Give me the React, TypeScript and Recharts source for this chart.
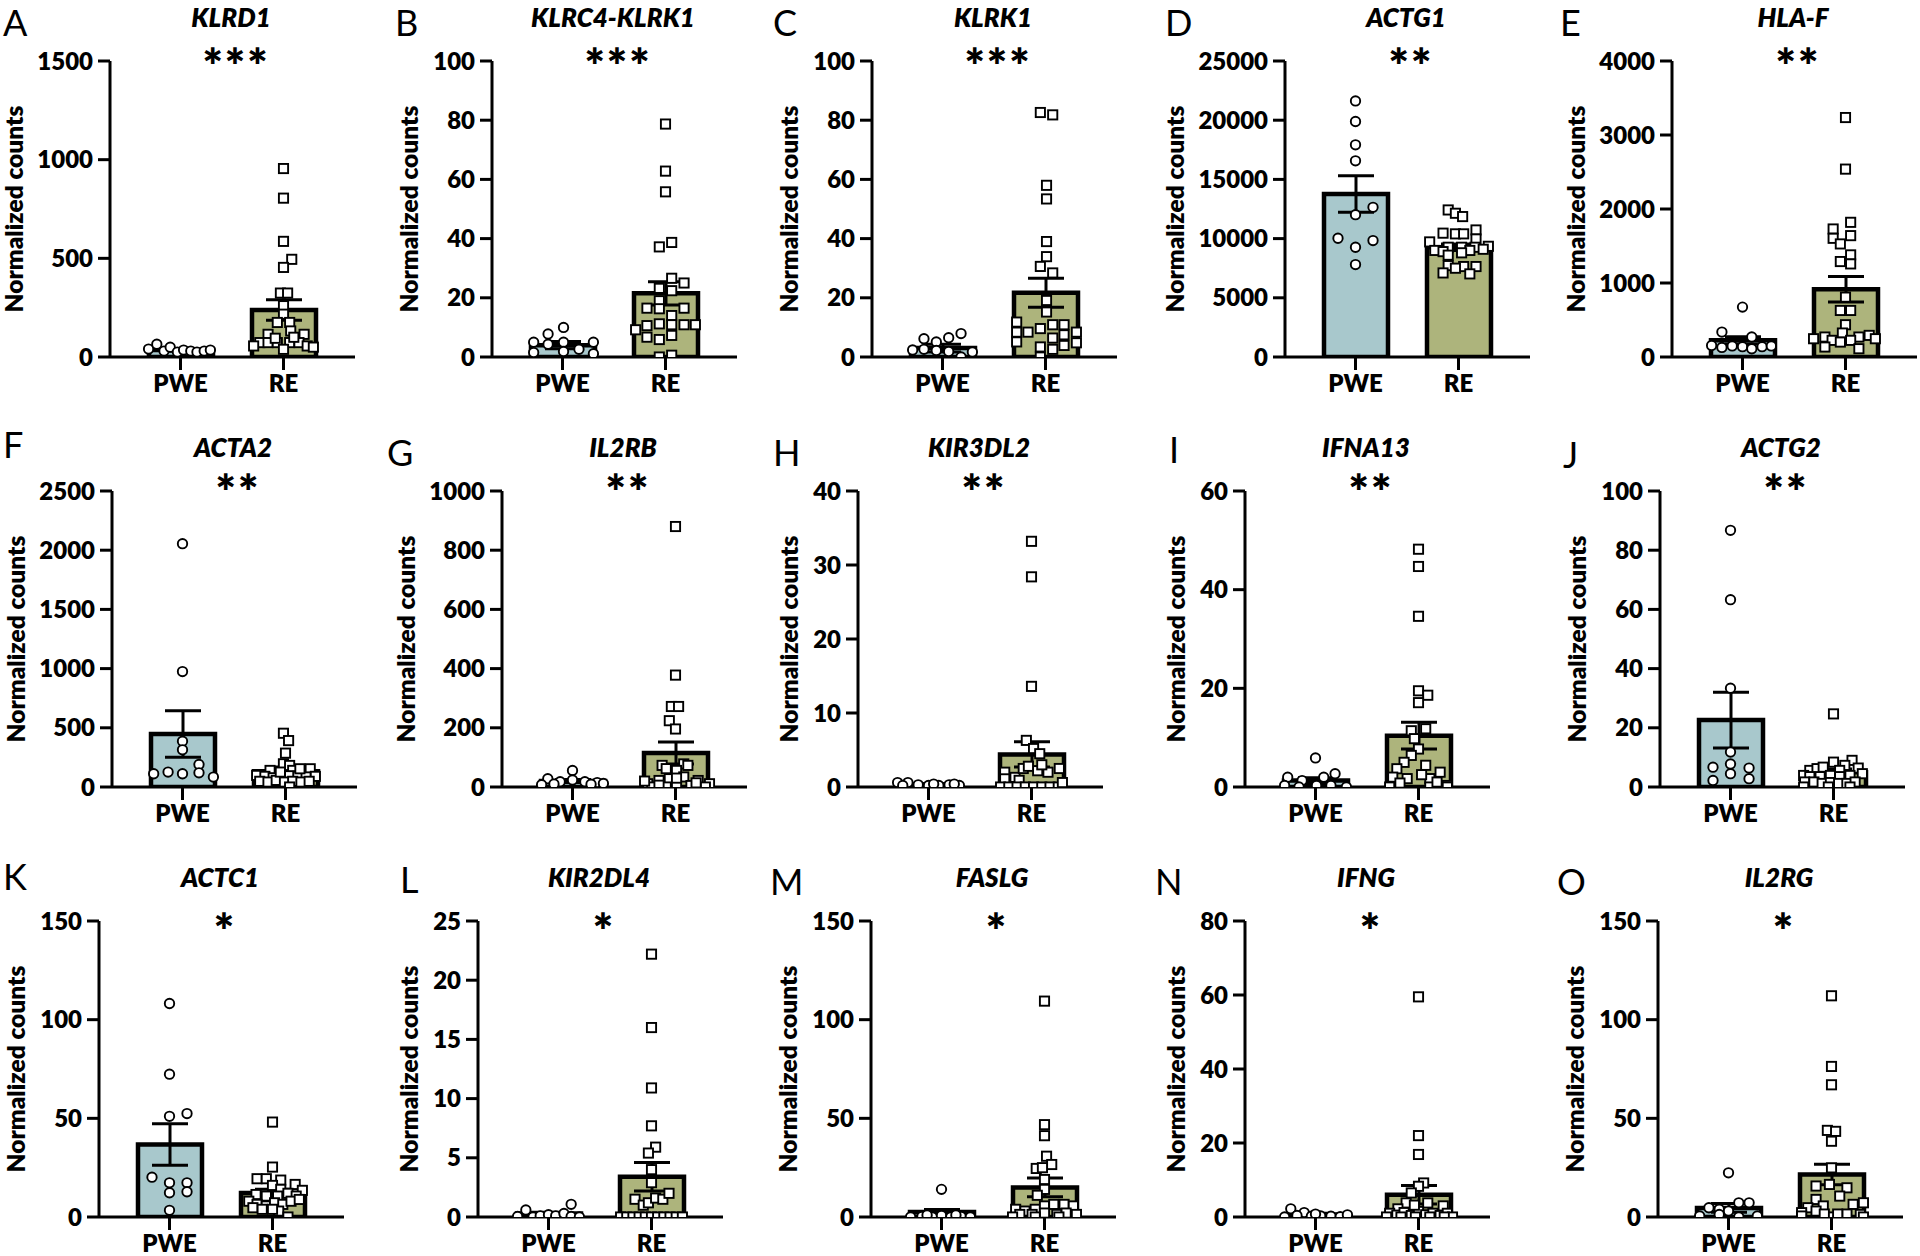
import { Bar, Cell, ComposedChart, ErrorBar, Scatter, XAxis, YAxis } from 'recharts';

const GROUPS = ['PWE', 'RE'];
const GENES = [
  'KLRD1', 'KLRC4-KLRK1', 'KLRK1', 'ACTG1', 'HLA-F',
  'ACTA2', 'IL2RB', 'KIR3DL2', 'IFNA13', 'ACTG2',
  'ACTC1', 'KIR2DL4', 'FASLG', 'IFNG', 'IL2RG',
];
const LETTERS = ['A', 'B', 'C', 'D', 'E', 'F', 'G', 'H', 'I', 'J', 'K', 'L', 'M', 'N', 'O'];
const STARS = ['***', '***', '***', '**', '**', '**', '**', '**', '**', '**', '*', '*', '*', '*', '*'];
const Y_TICKS = [
  [0, 500, 1000, 1500],
  [0, 20, 40, 60, 80, 100],
  [0, 20, 40, 60, 80, 100],
  [0, 5000, 10000, 15000, 20000, 25000],
  [0, 1000, 2000, 3000, 4000],
  [0, 500, 1000, 1500, 2000, 2500],
  [0, 200, 400, 600, 800, 1000],
  [0, 10, 20, 30, 40],
  [0, 20, 40, 60],
  [0, 20, 40, 60, 80, 100],
  [0, 50, 100, 150],
  [0, 5, 10, 15, 20, 25],
  [0, 50, 100, 150],
  [0, 20, 40, 60, 80],
  [0, 50, 100, 150],
];

// bar heights (mean) and error bars (SEM)
const MEAN_PWE = [35, 4, 3, 13760, 225, 448, 20, 0.35, 1.3, 22.6, 36.7, 0.3, 2.5, 0.7, 4.6];
const SEM_PWE = [5, 1.2, 1.3, 1540, 50, 196, 5, 0.08, 0.6, 9.4, 10.5, 0.1, 1.3, 0.3, 2.2];
const MEAN_RE = [238, 21.5, 21.7, 9270, 915, 133, 115, 4.4, 10.4, 5, 12.2, 3.4, 15, 6, 21.5];
const SEM_RE = [52, 3.9, 4.9, 280, 173, 35, 37, 1.7, 2.7, 1.1, 1.9, 1.2, 4.8, 2.5, 5.2];

// individual samples: [horizontal jitter in group widths, normalized count]
const KLRD1_PWE = [[-0.31, 40], [-0.23, 65], [-0.16, 30], [-0.1, 50], [-0.03, 25], [0.03, 35], [0.1, 30], [0.16, 25], [0.23, 30], [0.29, 35]];
const KLRD1_RE = [[0, 955], [0, 805], [0, 586], [0.08, 495], [0, 454], [-0.03, 324], [0.04, 324], [0, 260], [0, 217], [-0.06, 175], [0.06, 175], [0.07, 132], [-0.15, 115], [0.2, 115], [-0.23, 73], [-0.15, 73], [-0.06, 73], [0.06, 73], [0.15, 73], [-0.29, 56], [0.23, 56], [0.29, 50], [0, 39], [-0.08, 95], [0.1, 100]];
const KLRC4_PWE = [[0.01, 10], [-0.14, 7.8], [-0.28, 5], [-0.14, 4.3], [0.01, 5], [0.3, 5], [0.16, 2.6], [0.01, 1.9], [-0.28, 1.5], [0.3, 1.1]];
const KLRC4_RE = [[0, 78.7], [0, 62.8], [0, 55.8], [-0.06, 37.2], [0.06, 38.7], [0.06, 26.6], [0.18, 25], [-0.06, 23.2], [0.06, 22.4], [-0.06, 19], [-0.18, 16.5], [-0.06, 16.3], [0.18, 16.5], [0.06, 14], [-0.18, 10.6], [-0.06, 11.2], [0.06, 10.9], [0.18, 10.9], [-0.29, 9.2], [0.29, 10.9], [-0.18, 6.7], [-0.06, 5.9], [0.06, 7.3], [-0.06, 0], [0.06, 0.6]];
const KLRK1_PWE = [[-0.18, 6.2], [-0.06, 5.1], [0.06, 6.5], [0.18, 7.9], [-0.29, 2.4], [-0.18, 2.6], [-0.06, 2.2], [0.06, 1.9], [0.18, 0], [0.29, 1.7]];
const KLRK1_RE = [[-0.05, 82.6], [0.07, 81.8], [0.01, 58], [0.01, 53.4], [0.01, 39], [0.01, 33.9], [-0.05, 30.6], [0.07, 28.4], [0.01, 19.1], [0.01, 15.2], [-0.28, 11.8], [-0.28, 8.4], [-0.28, 5.1], [-0.17, 8.4], [-0.05, 9.6], [0.07, 10.9], [0.18, 10.9], [0.07, 6.4], [0.18, 7.5], [0.3, 8.4], [0.3, 4.8], [0.18, 3.9], [-0.05, 3.4], [0.07, 2.6], [-0.05, 0]];
const ACTG1_PWE = [[0, 21630], [0, 19890], [0, 17920], [0, 16570], [0.17, 12640], [0, 12020], [-0.17, 10030], [0.17, 9830], [0, 9270], [0, 7810]];
const ACTG1_RE = [[-0.1, 12420], [-0.03, 12140], [0.04, 11860], [-0.15, 10460], [-0.03, 10400], [0.05, 10400], [0.17, 10730], [-0.28, 9720], [0.17, 9970], [-0.23, 9000], [-0.1, 9270], [0.03, 9270], [0.16, 9270], [0.29, 9350], [-0.15, 8900], [0.11, 9000], [-0.1, 8600], [0.03, 8800], [-0.1, 7720], [0.05, 7640], [0.17, 7640], [-0.03, 7500], [-0.15, 7100], [0.11, 7020], [0.24, 9100]];
const HLAF_PWE = [[0, 674], [-0.2, 337], [0.09, 270], [-0.3, 157], [-0.2, 130], [-0.1, 150], [0, 140], [0.09, 110], [0.19, 140], [0.28, 150]];
const HLAF_RE = [[0, 3236], [0, 2539], [0.05, 1820], [-0.12, 1730], [-0.12, 1604], [0.05, 1640], [-0.05, 1528], [0.05, 1380], [-0.05, 1290], [0.05, 1258], [0, 809], [0.05, 629], [-0.05, 629], [0, 436], [-0.2, 270], [-0.03, 324], [0.13, 270], [0.23, 292], [-0.31, 247], [-0.13, 225], [-0.05, 202], [0.05, 225], [0.29, 247], [-0.2, 135], [0.13, 112]];
const ACTA2_PWE = [[0, 2055], [0, 975], [0, 387], [0, 314], [0.16, 191], [-0.28, 112], [-0.14, 126], [0, 112], [0.16, 120], [0.3, 84]];
const ACTA2_RE = [[-0.02, 454], [0.03, 392], [0, 286], [-0.02, 196], [0.04, 182], [0.24, 154], [-0.15, 140], [0.07, 140], [-0.28, 98], [-0.2, 90], [-0.12, 78], [-0.04, 90], [0.04, 95], [0.12, 90], [0.2, 85], [0.29, 90], [-0.25, 48], [-0.17, 42], [-0.09, 56], [-0.01, 42], [0.07, 48], [0.15, 42], [0.23, 48], [0.04, 0], [-0.05, 126], [0.14, 154]];
const IL2RB_PWE = [[0, 56], [-0.24, 28], [-0.12, 18], [0, 24], [0.12, 18], [0.24, 15], [-0.3, 8], [-0.18, 10], [0.18, 9], [0.3, 12]];
const IL2RB_RE = [[0, 880], [0, 378], [-0.04, 272], [0.03, 272], [-0.06, 224], [0, 196], [-0.13, 73], [0.08, 78], [-0.09, 62], [0.01, 56], [0.12, 73], [-0.27, 11], [-0.16, 22], [-0.06, 28], [0.08, 34], [0.22, 22], [0.33, 11], [-0.23, 0], [-0.09, 0], [0.01, 5], [0.15, 5], [0.29, 0], [-0.3, 20], [-0.16, 6], [0.01, 30], [0.2, 14]];
const KIR3DL2_PWE = [[-0.3, 0.6], [-0.2, 0.6], [-0.1, 0.3], [0, 0.2], [0.1, 0.2], [0.2, 0.3], [0.3, 0.2], [-0.25, 0.2], [0.05, 0.4], [0.25, 0.4]];
const KIR3DL2_RE = [[0, 33.2], [0, 28.4], [0, 13.6], [-0.05, 6.3], [0.02, 5.2], [-0.26, 2], [-0.16, 1.3], [-0.08, 2.5], [0.06, 2.2], [0.16, 2], [0.27, 2.5], [-0.26, 1.1], [-0.12, 0.9], [0.1, 3], [-0.3, 0], [-0.22, 0], [-0.14, 0], [-0.06, 0], [0.02, 0], [0.1, 0], [0.18, 0], [0.26, 0], [0.3, 0.6], [-0.03, 2.8], [0.08, 4.5]];
const IFNA13_PWE = [[0, 5.9], [-0.27, 2], [0.19, 2.7], [0.08, 2], [-0.13, 1.3], [-0.3, 0.3], [-0.16, 0], [0.01, 0.3], [0.15, 0.3], [0.3, 0]];
const IFNA13_RE = [[0, 48.2], [0, 44.7], [0, 34.6], [0, 19.5], [0.09, 18.6], [0, 17.1], [-0.07, 11.4], [0.07, 11.8], [-0.04, 9.8], [0, 7.7], [-0.07, 6.4], [-0.14, 5], [0.07, 4.4], [-0.21, 3.7], [0.21, 3], [-0.25, 2], [-0.11, 1.7], [0.11, 1.7], [0.28, 0.3], [-0.28, 0], [0.11, 0], [0.28, 0], [-0.18, 0.8], [0.18, 1], [0.03, 2.5]];
const ACTG2_PWE = [[0, 86.7], [0, 63.3], [0, 33.4], [0, 11.8], [-0.17, 6.7], [0, 7.8], [0.18, 6.4], [0, 4.5], [-0.17, 2.2], [0.18, 2.8]];
const ACTG2_RE = [[0, 24.7], [0, 8.4], [0.18, 9], [0.11, 7.3], [0.24, 6.4], [-0.23, 5.6], [-0.16, 6.2], [-0.1, 6.7], [0.06, 5.6], [-0.29, 3.9], [-0.23, 3.5], [-0.13, 3.5], [-0.03, 3.9], [0.06, 3.5], [0.16, 3.9], [0.28, 4.5], [-0.28, 1.7], [-0.19, 1.7], [-0.11, 1.2], [-0.03, 1.5], [0.05, 1.2], [0.13, 1.2], [0.21, 1.7], [-0.29, 0], [-0.05, 0], [0.16, 0]];
const ACTC1_PWE = [[0, 108.2], [0, 72.4], [0, 51], [0.17, 52.4], [-0.17, 20.2], [0, 17.3], [0.17, 17.3], [0, 12.3], [0.17, 12.8], [0, 3.4]];
const ACTC1_RE = [[0, 48.1], [0, 25.3], [-0.15, 19.4], [-0.06, 19.4], [0.08, 18.7], [0.22, 16.5], [0, 16], [0.08, 14], [0.29, 13.5], [-0.16, 11.4], [-0.06, 10.6], [0.05, 10.6], [0.15, 12], [0.23, 10.6], [-0.23, 8], [-0.15, 6.4], [-0.06, 5.6], [0.02, 7.2], [0.1, 6.4], [0.18, 8], [0.26, 8.9], [-0.19, 4.7], [-0.1, 3.9], [0.06, 3], [0.15, 0], [0, 3.9]];
const KIR2DL4_PWE = [[0.22, 1.07], [-0.22, 0.6], [-0.3, 0.05], [-0.15, 0], [-0.08, 0.1], [0, 0.2], [0.07, 0.1], [0.15, 0.3], [0.22, 0.05], [0.3, 0]];
const KIR2DL4_RE = [[0, 22.2], [0, 16], [0, 10.9], [0, 7.7], [0.04, 5.9], [-0.03, 5.4], [0, 4], [0, 2.9], [-0.16, 1.5], [-0.08, 1], [-0.03, 1.2], [0.04, 1.6], [0.11, 1.5], [0.17, 2], [-0.3, 0], [-0.24, 0], [-0.18, 0], [-0.12, 0], [-0.06, 0], [0, 0], [0.06, 0], [0.12, 0], [0.18, 0], [0.24, 0], [0.3, 0]];
const FASLG_PWE = [[0, 14], [-0.3, 0], [-0.19, 0.3], [-0.09, 0], [0, 0.8], [0.09, 0], [0.19, 0.3], [0.28, 0], [-0.14, 1], [0.14, 1]];
const FASLG_RE = [[0, 109.4], [0, 46.8], [0, 41.2], [0.02, 30.8], [0.07, 26.6], [-0.08, 24.6], [-0.02, 25], [0, 19], [0, 14], [-0.07, 11], [-0.28, 3.9], [-0.19, 3], [-0.09, 3.9], [0, 5.6], [0.09, 6.4], [0.19, 6.4], [0.28, 5.6], [-0.24, 1.3], [-0.12, 1.3], [0, 2], [0.12, 1.3], [0.21, 2], [0.31, 1.3], [-0.31, 0], [-0.09, 0], [0.14, 0]];
const IFNG_PWE = [[-0.24, 2.2], [-0.11, 1.2], [-0.3, 0], [-0.18, 0.4], [-0.04, 0.2], [0.05, 0.3], [0.15, 0.2], [0.24, 0.1], [0.31, 0.6], [0, 0.8]];
const IFNG_RE = [[0, 59.5], [0, 22], [0, 16.9], [0.05, 9.2], [0, 8.3], [-0.07, 6.5], [-0.12, 3.8], [0.09, 3.8], [0.24, 3], [-0.2, 2.2], [-0.28, 1], [-0.21, 0.5], [-0.14, 1.2], [-0.07, 0.4], [0, 1.5], [0.07, 0.6], [0.14, 1], [0.21, 0.4], [0.28, 1], [0.33, 0], [-0.31, 0], [-0.17, 0], [-0.03, 0], [0.11, 0], [0.25, 0], [-0.04, 3.2]];
const IL2RG_PWE = [[0, 22.4], [0.2, 7.2], [0.1, 7.2], [-0.19, 4.7], [-0.09, 3.9], [0, 3], [0.1, 0], [-0.28, 0.5], [0.28, 0.5], [-0.09, 1.3]];
const IL2RG_RE = [[0, 112.1], [0, 76.3], [0, 67], [-0.04, 43.9], [0.04, 43.4], [0, 38.4], [0, 24.9], [-0.15, 15.7], [-0.02, 16.5], [0.15, 14.8], [0.08, 10.6], [-0.15, 8.9], [-0.08, 5.6], [-0.23, 4.7], [0.21, 6.4], [0.31, 7.2], [-0.29, 2.2], [-0.15, 3], [0.15, 1.5], [0.28, 1.3], [0, 0], [0.31, 0], [-0.07, 1.5], [0.06, 1.5], [-0.29, 0.5]];

const PWE_POINTS = [KLRD1_PWE, KLRC4_PWE, KLRK1_PWE, ACTG1_PWE, HLAF_PWE, ACTA2_PWE, IL2RB_PWE, KIR3DL2_PWE, IFNA13_PWE, ACTG2_PWE, ACTC1_PWE, KIR2DL4_PWE, FASLG_PWE, IFNG_PWE, IL2RG_PWE];
const RE_POINTS = [KLRD1_RE, KLRC4_RE, KLRK1_RE, ACTG1_RE, HLAF_RE, ACTA2_RE, IL2RB_RE, KIR3DL2_RE, IFNA13_RE, ACTG2_RE, ACTC1_RE, KIR2DL4_RE, FASLG_RE, IFNG_RE, IL2RG_RE];

// layout
const AXIS_X = [110, 492, 872, 1285, 1672, 112, 502, 858, 1245, 1660, 99, 478, 871, 1245, 1658];
const LETTER_X = [3, 395, 773, 1165, 1560, 3, 387, 773, 1169, 1563, 3, 400, 770, 1155, 1557];
const LETTER_Y = [36, 36, 36, 36, 36, 458, 466, 466, 463, 468, 890, 893, 895, 895, 895];
const STAR_Y = [83, 509, 948];
const ROW_H = 430;
const PLOT_W = 245;
const PLOT_TOP = 61;
const PLOT_H = 296;
const LEFT = 140;
const FONT = 'Lato, "Open Sans", sans-serif';
const COLORS = ['#a8c8cc', '#adb47c'];
const AXIS = { stroke: '#000', strokeWidth: 3 };
const TICK_FONT = { fill: '#000', fontSize: 24, fontWeight: 800, fontFamily: FONT };

function Circle(p: any) {
  return <circle cx={p.cx} cy={p.cy} r={4.7} fill="#fff" stroke="#000" strokeWidth={1.9} />;
}

function Square(p: any) {
  return <rect x={p.cx - 4.6} y={p.cy - 4.6} width={9.2} height={9.2} fill="#fff" stroke="#000" strokeWidth={1.9} />;
}

function Panel({ i }: { i: number }) {
  const row = Math.floor(i / 5);
  const ticks = Y_TICKS[i];
  const top = ticks[ticks.length - 1];
  const gap = 42 + 13.5 * String(top).length;
  const data = GROUPS.map((g, k) => ({
    group: g,
    mean: k ? MEAN_RE[i] : MEAN_PWE[i],
    err: k ? SEM_RE[i] : SEM_PWE[i],
  }));
  const pwe = PWE_POINTS[i].map(([dx, v]) => ({ x: dx, y: v }));
  const re = RE_POINTS[i].map(([dx, v]) => ({ x: 1 + dx, y: v }));

  return (
    <div style={{ position: 'absolute', left: AXIS_X[i] - LEFT, top: row * ROW_H }}>
      <ComposedChart
        width={LEFT + PLOT_W + 20}
        height={PLOT_TOP + PLOT_H + 52}
        data={data}
        margin={{ top: PLOT_TOP, right: 20, bottom: 0, left: 0 }}
      >
        <XAxis
          xAxisId="cat"
          dataKey="group"
          padding={{ left: 19, right: 20 }}
          height={52}
          tickSize={13}
          tickMargin={5}
          interval={0}
          axisLine={AXIS}
          tickLine={AXIS}
          tick={TICK_FONT}
        />
        <XAxis
          xAxisId="j"
          dataKey="x"
          type="number"
          domain={[-0.5, 1.5]}
          padding={{ left: 19, right: 20 }}
          allowDataOverflow
          hide
        />
        <YAxis
          width={LEFT}
          domain={[0, top]}
          ticks={ticks}
          interval={0}
          allowDataOverflow
          tickSize={12}
          tickMargin={5}
          axisLine={AXIS}
          tickLine={AXIS}
          tick={TICK_FONT}
          label={{
            value: 'Normalized counts',
            angle: -90,
            position: 'insideLeft',
            offset: LEFT - gap,
            style: { ...TICK_FONT, textAnchor: 'middle', fontSize: 24.5 },
          }}
        />
        <Bar xAxisId="cat" dataKey="mean" barSize={64} stroke="#000" strokeWidth={4.5} isAnimationActive={false}>
          {data.map((d, k) => (
            <Cell key={d.group} fill={COLORS[k]} />
          ))}
          <ErrorBar dataKey="err" direction="y" width={18} strokeWidth={3} stroke="#000" />
        </Bar>
        <Scatter xAxisId="j" data={pwe} dataKey="y" shape={Circle} isAnimationActive={false} />
        <Scatter xAxisId="j" data={re} dataKey="y" shape={Square} isAnimationActive={false} />
      </ComposedChart>
    </div>
  );
}

export default function App() {
  return (
    <div style={{ position: 'absolute', left: 0, top: 0, width: 1920, height: 1256, background: '#fff', fontFamily: FONT }}>
      {GENES.map((g, i) => (
        <Panel key={g} i={i} />
      ))}
      <svg width={1920} height={1256} style={{ position: 'absolute', left: 0, top: 0, pointerEvents: 'none' }}>
        {GENES.map((g, i) => {
          const row = Math.floor(i / 5);
          return (
            <g key={g} fontFamily={FONT} fill="#000">
              <text x={LETTER_X[i]} y={LETTER_Y[i]} fontSize={36}>
                {LETTERS[i]}
              </text>
              <text x={AXIS_X[i] + 121} y={row * ROW_H + 27} textAnchor="middle" fontSize={26} fontWeight={800} fontStyle="italic">
                {g}
              </text>
              <text x={AXIS_X[i] + 126} y={STAR_Y[row]} textAnchor="middle" fontSize={48} fontWeight={800} letterSpacing={2}>
                {STARS[i]}
              </text>
            </g>
          );
        })}
      </svg>
    </div>
  );
}
